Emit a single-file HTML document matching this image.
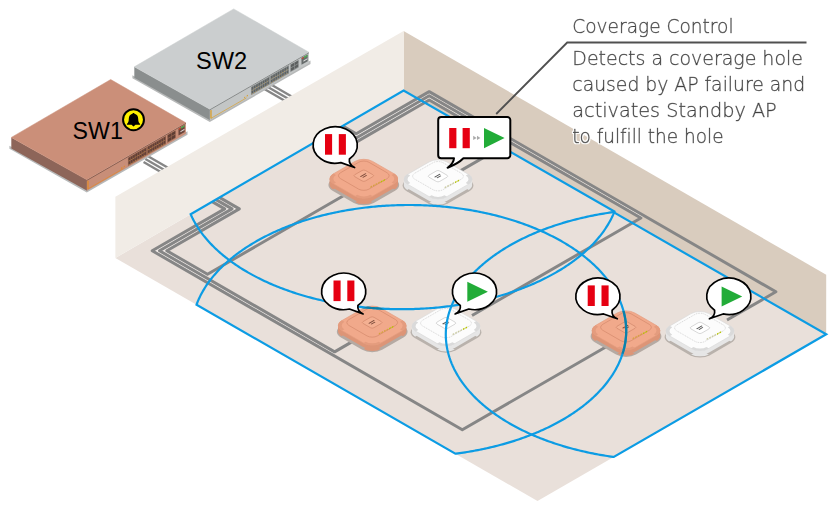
<!DOCTYPE html>
<html lang="en"><head><meta charset="utf-8"><title>Coverage Control</title>
<style>html,body{margin:0;padding:0;background:#fff}body{width:835px;height:510px;overflow:hidden}svg{display:block}</style>
</head><body>
<svg width="835" height="510" viewBox="0 0 835 510">
<defs>
<filter id="halo" x="-3%" y="-8%" width="106%" height="116%"><feMorphology in="SourceAlpha" operator="dilate" radius="1.3" result="d"/><feFlood flood-color="#fff"/><feComposite in2="d" operator="in" result="h"/><feMerge><feMergeNode in="h"/><feMergeNode in="SourceGraphic"/></feMerge></filter>
<clipPath id="feet"><rect x="12.83" y="-23.8" width="10.97" height="10.97"/><rect x="12.83" y="12.83" width="10.97" height="10.97"/><rect x="-23.8" y="12.83" width="10.97" height="10.97"/></clipPath><g id="ap-o">
<g transform="translate(0,6.1) matrix(0.86603,0.5,-0.86603,0.5,0,0)"><rect x="-23.8" y="-23.8" width="47.6" height="47.6" rx="11.5" fill="#b5aaa3"/></g>
<g transform="translate(0,5.6) matrix(0.86603,0.5,-0.86603,0.5,0,0)"><rect x="-22.8" y="-22.8" width="45.6" height="45.6" rx="10.5" fill="#dd9577" clip-path="url(#feet)"/></g>
<g transform="translate(0,3.9) matrix(0.86603,0.5,-0.86603,0.5,0,0)"><rect x="-22.8" y="-22.8" width="45.6" height="45.6" rx="10.5" fill="#dd9577"/></g>
<rect x="-34.16" y="0" width="68.32" height="3.9" fill="#dd9577"/>
<g transform="matrix(0.86603,0.5,-0.86603,0.5,0,0)"><rect x="-22.5" y="-22.5" width="45" height="45" rx="10.2" fill="#f1a98b" stroke="#e49c7e" stroke-width="0.6"/>
<path d="M12.3,-22.8 A10.5,10.5 0 0 1 22.8,-12.3 L19.8,-12.3 A7.5,7.5 0 0 0 12.3,-19.8 Z" fill="#e49c7e"/>
<path d="M-12.3,22.8 A10.5,10.5 0 0 1 -22.8,12.3 L-19.8,12.3 A7.5,7.5 0 0 0 -12.3,19.8 Z" fill="#e49c7e"/>
<path d="M12.3,22.8 A10.5,10.5 0 0 0 22.8,12.3 L19.8,12.3 A7.5,7.5 0 0 1 12.3,19.8 Z" fill="#e49c7e"/>
</g>
<g transform="translate(0,-3.1) matrix(0.86603,0.5,-0.86603,0.5,0,0)"><rect x="-16.4" y="-16.4" width="32.8" height="32.8" rx="6" fill="none" stroke="#cf8467" stroke-width="0.55"/><rect x="-6.2" y="-6.2" width="12.4" height="12.4" rx="2" fill="#f4b092" stroke="#cf8467" stroke-width="0.6"/><path d="M-1.5,-3.4 h1.1 v6.4 h-1.1 z M0.6,-2.2 h1.0 v4.6 h-1.0 z" fill="#7a4a3a"/></g>
<path d="M6.6,7.6 l1.6,-0.92 l0,1.5 l-1.6,0.92 z" fill="#d6a23f"/>
<path d="M9.18,6.3 l1.6,-0.92 l0,1.5 l-1.6,0.92 z" fill="#d6a23f"/>
<path d="M11.76,5 l1.6,-0.92 l0,1.5 l-1.6,0.92 z" fill="#d6a23f"/>
<path d="M14.34,3.7 l1.6,-0.92 l0,1.5 l-1.6,0.92 z" fill="#d6a23f"/>
<path d="M16.92,2.4 l1.6,-0.92 l0,1.5 l-1.6,0.92 z" fill="#b8c400"/>
<path d="M19.5,1.1 l1.6,-0.92 l0,1.5 l-1.6,0.92 z" fill="#b8c400"/>
</g><g id="ap-w">
<g transform="translate(0,6.1) matrix(0.86603,0.5,-0.86603,0.5,0,0)"><rect x="-23.8" y="-23.8" width="47.6" height="47.6" rx="11.5" fill="#b9b2ac"/></g>
<g transform="translate(0,5.6) matrix(0.86603,0.5,-0.86603,0.5,0,0)"><rect x="-22.8" y="-22.8" width="45.6" height="45.6" rx="10.5" fill="#e6e6e6" clip-path="url(#feet)"/></g>
<g transform="translate(0,3.9) matrix(0.86603,0.5,-0.86603,0.5,0,0)"><rect x="-22.8" y="-22.8" width="45.6" height="45.6" rx="10.5" fill="#e6e6e6"/></g>
<rect x="-34.16" y="0" width="68.32" height="3.9" fill="#e6e6e6"/>
<g transform="matrix(0.86603,0.5,-0.86603,0.5,0,0)"><rect x="-22.5" y="-22.5" width="45" height="45" rx="10.2" fill="#fcfcfc" stroke="#dadada" stroke-width="0.6"/>
<path d="M12.3,-22.8 A10.5,10.5 0 0 1 22.8,-12.3 L19.8,-12.3 A7.5,7.5 0 0 0 12.3,-19.8 Z" fill="#dadada"/>
<path d="M-12.3,22.8 A10.5,10.5 0 0 1 -22.8,12.3 L-19.8,12.3 A7.5,7.5 0 0 0 -12.3,19.8 Z" fill="#dadada"/>
<path d="M12.3,22.8 A10.5,10.5 0 0 0 22.8,12.3 L19.8,12.3 A7.5,7.5 0 0 1 12.3,19.8 Z" fill="#dadada"/>
</g>
<g transform="translate(0,-3.1) matrix(0.86603,0.5,-0.86603,0.5,0,0)"><rect x="-16.4" y="-16.4" width="32.8" height="32.8" rx="6" fill="none" stroke="#c4c4c4" stroke-width="0.55" stroke-dasharray="1.2 0.8"/><rect x="-6.2" y="-6.2" width="12.4" height="12.4" rx="2" fill="#ffffff" stroke="#c4c4c4" stroke-width="0.6"/><path d="M-1.5,-3.4 h1.1 v6.4 h-1.1 z M0.6,-2.2 h1.0 v4.6 h-1.0 z" fill="#555"/></g>
<path d="M6.6,7.6 l1.6,-0.92 l0,1.5 l-1.6,0.92 z" fill="#c9c9a0"/>
<path d="M9.18,6.3 l1.6,-0.92 l0,1.5 l-1.6,0.92 z" fill="#c9c9a0"/>
<path d="M11.76,5 l1.6,-0.92 l0,1.5 l-1.6,0.92 z" fill="#c9c9a0"/>
<path d="M14.34,3.7 l1.6,-0.92 l0,1.5 l-1.6,0.92 z" fill="#c9c9a0"/>
<path d="M16.92,2.4 l1.6,-0.92 l0,1.5 l-1.6,0.92 z" fill="#b8c400"/>
<path d="M19.5,1.1 l1.6,-0.92 l0,1.5 l-1.6,0.92 z" fill="#b8c400"/>
</g>
<clipPath id="apo-clip"><rect x="-22.8" y="-22.8" width="45.6" height="45.6" rx="10.5" transform="matrix(0.86603,0.5,-0.86603,0.5,363.8,178.8)"/><rect x="-22.8" y="-22.8" width="45.6" height="45.6" rx="10.5" transform="matrix(0.86603,0.5,-0.86603,0.5,363.8,182.7)"/><rect x="-22.8" y="-22.8" width="45.6" height="45.6" rx="10.5" transform="matrix(0.86603,0.5,-0.86603,0.5,372.2,325.6)"/><rect x="-22.8" y="-22.8" width="45.6" height="45.6" rx="10.5" transform="matrix(0.86603,0.5,-0.86603,0.5,372.2,329.5)"/><rect x="-22.8" y="-22.8" width="45.6" height="45.6" rx="10.5" transform="matrix(0.86603,0.5,-0.86603,0.5,626,330.4)"/><rect x="-22.8" y="-22.8" width="45.6" height="45.6" rx="10.5" transform="matrix(0.86603,0.5,-0.86603,0.5,626,334.3)"/></clipPath>
</defs>
<g id="cables-back"><path d="M147.22,155.74 L200.33,186.4" fill="none" stroke="#868686" stroke-width="2.3" stroke-linejoin="round"/><path d="M145.4,158.9 L193.03,186.4" fill="none" stroke="#868686" stroke-width="2.3" stroke-linejoin="round"/><path d="M143.57,162.06 L185.73,186.4" fill="none" stroke="#868686" stroke-width="2.3" stroke-linejoin="round"/><path d="M259.14,86.06 L317.23,119.6" fill="none" stroke="#868686" stroke-width="2.3" stroke-linejoin="round"/><path d="M260.94,82.95 L317.23,115.45" fill="none" stroke="#868686" stroke-width="2.3" stroke-linejoin="round"/><path d="M262.74,79.83 L317.23,111.29" fill="none" stroke="#868686" stroke-width="2.3" stroke-linejoin="round"/></g>
<path d="M403.6,30.9 L403.6,90.5 L826.2,334.3 L826.2,274.7 Z" fill="#d9ccbe"/>
<path d="M403.6,90.5 L115.4,258 L537.5,501 L826.2,334.3 Z" fill="#e9e0da"/>
<g id="cables"><path d="M196.68,186.4 L235.65,208.9 L163.15,250.76 L206,275.5" fill="none" stroke="rgba(255,255,255,0.4)" stroke-width="1.5" stroke-linejoin="round"/><path d="M189.38,186.4 L228.35,208.9 L155.85,250.76 L333.1,353.09" fill="none" stroke="rgba(255,255,255,0.4)" stroke-width="1.5" stroke-linejoin="round"/><path d="M317.23,117.53 L356.2,140.03 L429.2,97.88 L507.7,143.2" fill="none" stroke="rgba(255,255,255,0.5)" stroke-width="1.55" stroke-linejoin="round"/><path d="M317.23,113.37 L356.2,135.87 L429.2,93.72 L642.4,216.81" fill="none" stroke="rgba(255,255,255,0.5)" stroke-width="1.55" stroke-linejoin="round"/><path d="M200.33,186.4 L239.3,208.9 L166.8,250.76 L207.5,274.26 L346,194.29" fill="none" stroke="#868686" stroke-width="2.95" stroke-linejoin="round"/><path d="M193.03,186.4 L232,208.9 L159.5,250.76 L334.6,351.85 L354,340.65" fill="none" stroke="#868686" stroke-width="2.95" stroke-linejoin="round"/><path d="M185.73,186.4 L224.7,208.9 L152.2,250.76 L462.3,429.79 L611,343.94" fill="none" stroke="#868686" stroke-width="2.95" stroke-linejoin="round"/><path d="M317.23,119.6 L356.2,142.1 L429.2,99.96 L506.2,144.41 L456,173.4" fill="none" stroke="#868686" stroke-width="2.95" stroke-linejoin="round"/><path d="M317.23,115.45 L356.2,137.95 L429.2,95.8 L640.9,218.03 L472,315.54" fill="none" stroke="#868686" stroke-width="2.95" stroke-linejoin="round"/><path d="M317.23,111.29 L356.2,133.79 L429.2,91.64 L775.9,291.81 L727,320.04" fill="none" stroke="#868686" stroke-width="2.95" stroke-linejoin="round"/></g>
<path d="M403.6,30.9 L115.4,196.8 L115.4,258 L403.6,90.5 Z" fill="#f1ece6"/>
<path d="M132.4,75.2 L132.4,78.2 L209.8,122 L310.5,64.1 L310.5,60.6 L209.8,117.2 Z" fill="#b7b9b9"/>
<path d="M134.3,66.8 L134.3,77.8 L210.1,120.2 L210.1,109.2 Z" fill="#8a8e8e"/>
<path d="M209.8,109.2 L209.8,120.2 L308.9,63.2 L308.9,52.2 Z" fill="#c3c6c6"/>
<path d="M233.7,8.9 L134.3,66.8 L209.8,109.2 L308.9,52.2 Z" fill="#cbcecf" stroke="#cbcecf" stroke-width="0.5" stroke-linejoin="round"/>
<path d="M209.8,109.8 L308.9,52.8" fill="none" stroke="#565a5a" stroke-width="0.7" opacity="0.8"/>
<path d="M210.99,110.32 L210.99,118.32 L246.47,97.91" fill="none" stroke="#d9a032" stroke-width="0.7"/>
<path d="M210.99,110.02 L210.99,118.52" fill="none" stroke="#d9a032" stroke-width="1"/>
<path d="M243.99,97.13 L243.99,98.33 L245.28,97.59 L245.28,96.39 Z M246.67,95.6 L246.67,96.8 L247.95,96.05 L247.95,94.85 Z" fill="#d9a032"/>
<path d="M250.93,87.04 L250.93,95.34 L289.08,73.4 L289.08,65.1 Z" fill="#8f9393"/>
<path d="M251.64,87.33 L251.64,90.13 L253.34,89.16 L253.34,86.36 Z M251.64,91.03 L251.64,93.83 L253.34,92.86 L253.34,90.06 Z M253.87,86.05 L253.87,88.85 L255.57,87.87 L255.57,85.07 Z M253.87,89.75 L253.87,92.55 L255.57,91.57 L255.57,88.77 Z M256.1,84.77 L256.1,87.57 L257.8,86.59 L257.8,83.79 Z M256.1,88.47 L256.1,91.27 L257.8,90.29 L257.8,87.49 Z M258.33,83.48 L258.33,86.28 L260.03,85.31 L260.03,82.51 Z M258.33,87.18 L258.33,89.98 L260.03,89.01 L260.03,86.21 Z M260.56,82.2 L260.56,85 L262.26,84.03 L262.26,81.23 Z M260.56,85.9 L260.56,88.7 L262.26,87.73 L262.26,84.93 Z M262.79,80.92 L262.79,83.72 L264.49,82.74 L264.49,79.94 Z M262.79,84.62 L262.79,87.42 L264.49,86.44 L264.49,83.64 Z M265.02,79.64 L265.02,82.44 L266.72,81.46 L266.72,78.66 Z M265.02,83.34 L265.02,86.14 L266.72,85.16 L266.72,82.36 Z M267.25,78.35 L267.25,81.15 L268.95,80.18 L268.95,77.38 Z M267.25,82.05 L267.25,84.85 L268.95,83.88 L268.95,81.08 Z M270.97,76.22 L270.97,79.02 L272.66,78.04 L272.66,75.24 Z M270.97,79.92 L270.97,82.72 L272.66,81.74 L272.66,78.94 Z M273.2,74.93 L273.2,77.73 L274.89,76.76 L274.89,73.96 Z M273.2,78.63 L273.2,81.43 L274.89,80.46 L274.89,77.66 Z M275.43,73.65 L275.43,76.45 L277.12,75.48 L277.12,72.68 Z M275.43,77.35 L275.43,80.15 L277.12,79.18 L277.12,76.38 Z M277.66,72.37 L277.66,75.17 L279.35,74.19 L279.35,71.39 Z M277.66,76.07 L277.66,78.87 L279.35,77.89 L279.35,75.09 Z M279.89,71.09 L279.89,73.89 L281.58,72.91 L281.58,70.11 Z M279.89,74.79 L279.89,77.59 L281.58,76.61 L281.58,73.81 Z M282.12,69.8 L282.12,72.6 L283.81,71.63 L283.81,68.83 Z M282.12,73.5 L282.12,76.3 L283.81,75.33 L283.81,72.53 Z M284.35,68.52 L284.35,71.32 L286.04,70.35 L286.04,67.55 Z M284.35,72.22 L284.35,75.02 L286.04,74.05 L286.04,71.25 Z M286.58,67.24 L286.58,70.04 L288.27,69.06 L288.27,66.26 Z M286.58,70.94 L286.58,73.74 L288.27,72.76 L288.27,69.96 Z" fill="#565a5a" opacity="0.85"/>
<path d="M251.84,89.92 L251.84,90.72 L252.34,90.43 L252.34,89.63 Z M251.84,93.62 L251.84,94.42 L252.34,94.13 L252.34,93.33 Z M254.07,88.64 L254.07,89.44 L254.57,89.15 L254.57,88.35 Z M254.07,92.34 L254.07,93.14 L254.57,92.85 L254.57,92.05 Z M256.3,87.35 L256.3,88.15 L256.8,87.87 L256.8,87.07 Z M256.3,91.05 L256.3,91.85 L256.8,91.57 L256.8,90.77 Z M258.53,86.07 L258.53,86.87 L259.03,86.59 L259.03,85.79 Z M258.53,89.77 L258.53,90.57 L259.03,90.29 L259.03,89.49 Z M260.76,84.79 L260.76,85.59 L261.26,85.3 L261.26,84.5 Z M260.76,88.49 L260.76,89.29 L261.26,89 L261.26,88.2 Z M262.99,83.51 L262.99,84.31 L263.49,84.02 L263.49,83.22 Z M262.99,87.21 L262.99,88.01 L263.49,87.72 L263.49,86.92 Z M265.22,82.22 L265.22,83.02 L265.72,82.74 L265.72,81.94 Z M265.22,85.92 L265.22,86.72 L265.72,86.44 L265.72,85.64 Z M267.45,80.94 L267.45,81.74 L267.95,81.46 L267.95,80.66 Z M267.45,84.64 L267.45,85.44 L267.95,85.16 L267.95,84.36 Z M271.17,78.8 L271.17,79.6 L271.66,79.32 L271.66,78.52 Z M271.17,82.5 L271.17,83.3 L271.66,83.02 L271.66,82.22 Z M273.4,77.52 L273.4,78.32 L273.89,78.04 L273.89,77.24 Z M273.4,81.22 L273.4,82.02 L273.89,81.74 L273.89,80.94 Z M275.63,76.24 L275.63,77.04 L276.12,76.75 L276.12,75.95 Z M275.63,79.94 L275.63,80.74 L276.12,80.45 L276.12,79.65 Z M277.86,74.96 L277.86,75.76 L278.35,75.47 L278.35,74.67 Z M277.86,78.66 L277.86,79.46 L278.35,79.17 L278.35,78.37 Z M280.09,73.67 L280.09,74.47 L280.58,74.19 L280.58,73.39 Z M280.09,77.37 L280.09,78.17 L280.58,77.89 L280.58,77.09 Z M282.32,72.39 L282.32,73.19 L282.81,72.91 L282.81,72.11 Z M282.32,76.09 L282.32,76.89 L282.81,76.61 L282.81,75.81 Z M284.55,71.11 L284.55,71.91 L285.04,71.62 L285.04,70.82 Z M284.55,74.81 L284.55,75.61 L285.04,75.32 L285.04,74.52 Z M286.78,69.83 L286.78,70.63 L287.27,70.34 L287.27,69.54 Z M286.78,73.53 L286.78,74.33 L287.27,74.04 L287.27,73.24 Z" fill="#e0a030" opacity="0.9"/>
<path d="M290.27,64.52 L290.27,72.32 L298.69,67.47 L298.69,59.67 Z" fill="#8f9393"/>
<path d="M290.86,64.67 L290.86,67.47 L294.23,65.54 L294.23,62.74 Z M294.83,62.39 L294.83,65.19 L298.2,63.26 L298.2,60.46 Z M290.86,68.27 L290.86,71.07 L294.23,69.14 L294.23,66.34 Z M294.83,65.99 L294.83,68.79 L298.2,66.86 L298.2,64.06 Z" fill="#565a5a" opacity="0.9"/>
<path d="M301.47,58.07 L301.47,64.87 L307.71,61.28 L307.71,54.48 Z" fill="#565a5a" opacity="0.85"/>
<path d="M303.94,56.65 L303.94,58.25 L307.41,56.25 L307.41,54.65 Z" fill="#4caf50"/>
<path d="M301.76,58 L301.76,59.3 L303.75,58.16 L303.75,56.86 Z" fill="#c9452e"/>
<path d="M303.45,60.53 L303.45,61.63 L307.41,59.35 L307.41,58.25 Z" fill="#e9e9e9" opacity="0.9"/>
<text x="195.9" y="69.3" font-family="'Liberation Sans', Arial, sans-serif" font-size="23" textLength="51.2" lengthAdjust="spacingAndGlyphs" fill="#000">SW2</text>
<path d="M9.4,145.8 L9.4,148.8 L86.8,192.6 L187.5,134.7 L187.5,131.2 L86.8,187.8 Z" fill="#b7b9b9"/>
<path d="M11.3,137.4 L11.3,148.4 L87.1,190.8 L87.1,179.8 Z" fill="#8d6559"/>
<path d="M86.8,179.8 L86.8,190.8 L185.9,133.8 L185.9,122.8 Z" fill="#c88e78"/>
<path d="M110.7,79.5 L11.3,137.4 L86.8,179.8 L185.9,122.8 Z" fill="#cb8f79" stroke="#cb8f79" stroke-width="0.5" stroke-linejoin="round"/>
<path d="M86.8,180.4 L185.9,123.4" fill="none" stroke="#593a31" stroke-width="0.7" opacity="0.8"/>
<path d="M87.99,180.92 L87.99,188.92 L123.47,168.51" fill="none" stroke="#e08a2e" stroke-width="0.7"/>
<path d="M87.99,180.62 L87.99,189.12" fill="none" stroke="#e08a2e" stroke-width="1"/>
<path d="M120.99,167.73 L120.99,168.94 L122.28,168.19 L122.28,166.99 Z M123.67,166.2 L123.67,167.4 L124.95,166.66 L124.95,165.45 Z" fill="#e08a2e"/>
<path d="M127.93,157.64 L127.93,165.94 L166.08,144 L166.08,135.7 Z" fill="#93634f"/>
<path d="M128.64,157.93 L128.64,160.73 L130.34,159.76 L130.34,156.96 Z M128.64,161.63 L128.64,164.43 L130.34,163.46 L130.34,160.66 Z M130.87,156.65 L130.87,159.45 L132.57,158.47 L132.57,155.67 Z M130.87,160.35 L130.87,163.15 L132.57,162.17 L132.57,159.37 Z M133.1,155.37 L133.1,158.17 L134.8,157.19 L134.8,154.39 Z M133.1,159.07 L133.1,161.87 L134.8,160.89 L134.8,158.09 Z M135.33,154.08 L135.33,156.88 L137.03,155.91 L137.03,153.11 Z M135.33,157.78 L135.33,160.58 L137.03,159.61 L137.03,156.81 Z M137.56,152.8 L137.56,155.6 L139.26,154.63 L139.26,151.83 Z M137.56,156.5 L137.56,159.3 L139.26,158.33 L139.26,155.53 Z M139.79,151.52 L139.79,154.32 L141.49,153.34 L141.49,150.54 Z M139.79,155.22 L139.79,158.02 L141.49,157.04 L141.49,154.24 Z M142.02,150.24 L142.02,153.04 L143.72,152.06 L143.72,149.26 Z M142.02,153.94 L142.02,156.74 L143.72,155.76 L143.72,152.96 Z M144.25,148.95 L144.25,151.75 L145.95,150.78 L145.95,147.98 Z M144.25,152.65 L144.25,155.45 L145.95,154.48 L145.95,151.68 Z M147.97,146.82 L147.97,149.62 L149.66,148.64 L149.66,145.84 Z M147.97,150.52 L147.97,153.32 L149.66,152.34 L149.66,149.54 Z M150.2,145.53 L150.2,148.33 L151.89,147.36 L151.89,144.56 Z M150.2,149.23 L150.2,152.03 L151.89,151.06 L151.89,148.26 Z M152.43,144.25 L152.43,147.05 L154.12,146.08 L154.12,143.28 Z M152.43,147.95 L152.43,150.75 L154.12,149.78 L154.12,146.98 Z M154.66,142.97 L154.66,145.77 L156.35,144.79 L156.35,141.99 Z M154.66,146.67 L154.66,149.47 L156.35,148.49 L156.35,145.69 Z M156.89,141.69 L156.89,144.49 L158.58,143.51 L158.58,140.71 Z M156.89,145.39 L156.89,148.19 L158.58,147.21 L158.58,144.41 Z M159.12,140.4 L159.12,143.2 L160.81,142.23 L160.81,139.43 Z M159.12,144.1 L159.12,146.9 L160.81,145.93 L160.81,143.13 Z M161.35,139.12 L161.35,141.92 L163.04,140.95 L163.04,138.15 Z M161.35,142.82 L161.35,145.62 L163.04,144.65 L163.04,141.85 Z M163.58,137.84 L163.58,140.64 L165.27,139.66 L165.27,136.86 Z M163.58,141.54 L163.58,144.34 L165.27,143.36 L165.27,140.56 Z" fill="#593a31" opacity="0.85"/>
<path d="M128.84,160.52 L128.84,161.32 L129.34,161.03 L129.34,160.23 Z M128.84,164.22 L128.84,165.02 L129.34,164.73 L129.34,163.93 Z M131.07,159.24 L131.07,160.04 L131.57,159.75 L131.57,158.95 Z M131.07,162.94 L131.07,163.74 L131.57,163.45 L131.57,162.65 Z M133.3,157.95 L133.3,158.75 L133.8,158.47 L133.8,157.67 Z M133.3,161.65 L133.3,162.45 L133.8,162.17 L133.8,161.37 Z M135.53,156.67 L135.53,157.47 L136.03,157.19 L136.03,156.39 Z M135.53,160.37 L135.53,161.17 L136.03,160.89 L136.03,160.09 Z M137.76,155.39 L137.76,156.19 L138.26,155.9 L138.26,155.1 Z M137.76,159.09 L137.76,159.89 L138.26,159.6 L138.26,158.8 Z M139.99,154.11 L139.99,154.91 L140.49,154.62 L140.49,153.82 Z M139.99,157.81 L139.99,158.61 L140.49,158.32 L140.49,157.52 Z M142.22,152.82 L142.22,153.62 L142.72,153.34 L142.72,152.54 Z M142.22,156.52 L142.22,157.32 L142.72,157.04 L142.72,156.24 Z M144.45,151.54 L144.45,152.34 L144.95,152.06 L144.95,151.26 Z M144.45,155.24 L144.45,156.04 L144.95,155.76 L144.95,154.96 Z M148.17,149.4 L148.17,150.2 L148.66,149.92 L148.66,149.12 Z M148.17,153.1 L148.17,153.9 L148.66,153.62 L148.66,152.82 Z M150.4,148.12 L150.4,148.92 L150.89,148.64 L150.89,147.84 Z M150.4,151.82 L150.4,152.62 L150.89,152.34 L150.89,151.54 Z M152.63,146.84 L152.63,147.64 L153.12,147.35 L153.12,146.55 Z M152.63,150.54 L152.63,151.34 L153.12,151.05 L153.12,150.25 Z M154.86,145.56 L154.86,146.36 L155.35,146.07 L155.35,145.27 Z M154.86,149.26 L154.86,150.06 L155.35,149.77 L155.35,148.97 Z M157.09,144.27 L157.09,145.07 L157.58,144.79 L157.58,143.99 Z M157.09,147.97 L157.09,148.77 L157.58,148.49 L157.58,147.69 Z M159.32,142.99 L159.32,143.79 L159.81,143.51 L159.81,142.71 Z M159.32,146.69 L159.32,147.49 L159.81,147.21 L159.81,146.41 Z M161.55,141.71 L161.55,142.51 L162.04,142.22 L162.04,141.42 Z M161.55,145.41 L161.55,146.21 L162.04,145.92 L162.04,145.12 Z M163.78,140.43 L163.78,141.23 L164.27,140.94 L164.27,140.14 Z M163.78,144.13 L163.78,144.93 L164.27,144.64 L164.27,143.84 Z" fill="#e0a030" opacity="0.9"/>
<path d="M167.27,135.12 L167.27,142.92 L175.69,138.07 L175.69,130.27 Z" fill="#93634f"/>
<path d="M167.86,135.27 L167.86,138.07 L171.23,136.14 L171.23,133.34 Z M171.83,132.99 L171.83,135.79 L175.2,133.86 L175.2,131.06 Z M167.86,138.87 L167.86,141.67 L171.23,139.74 L171.23,136.94 Z M171.83,136.59 L171.83,139.39 L175.2,137.46 L175.2,134.66 Z" fill="#593a31" opacity="0.9"/>
<path d="M178.47,128.67 L178.47,135.47 L184.71,131.88 L184.71,125.08 Z" fill="#593a31" opacity="0.85"/>
<path d="M180.94,127.25 L180.94,128.85 L184.41,126.86 L184.41,125.25 Z" fill="#4caf50"/>
<path d="M178.76,128.6 L178.76,129.9 L180.75,128.76 L180.75,127.46 Z" fill="#c9452e"/>
<path d="M180.45,131.13 L180.45,132.24 L184.41,129.96 L184.41,128.85 Z" fill="#e9e9e9" opacity="0.9"/>
<text x="72.6" y="139.3" font-family="'Liberation Sans', Arial, sans-serif" font-size="23" textLength="50.2" lengthAdjust="spacingAndGlyphs" fill="#000">SW1</text>
<circle cx="133.5" cy="119.7" r="10.45" fill="#fff100" stroke="#000" stroke-width="2"/>
<path transform="translate(133.5,119.7)" d="M0,-6.8 C0.7,-6.8 1.0,-6.3 1.0,-5.9 C3.5,-5.3 4.7,-3.4 4.7,-1.0 C4.7,1.8 5.3,3.2 6.6,4.2 L6.6,5 L2.0,5 L0,6.9 L-2.0,5 L-6.6,5 L-6.6,4.2 C-5.3,3.2 -4.7,1.8 -4.7,-1.0 C-4.7,-3.4 -3.5,-5.3 -1.0,-5.9 C-1.0,-6.3 -0.7,-6.8 0,-6.8 Z" fill="#000"/>
<use href="#ap-o" x="363.8" y="178.8"/>
<use href="#ap-w" x="438" y="179.3"/>
<use href="#ap-o" x="372.2" y="325.6"/>
<use href="#ap-w" x="446" y="326.2"/>
<use href="#ap-o" x="626" y="330.4"/>
<use href="#ap-w" x="700" y="331"/>
<g stroke="#0c9ce4"><g id="cov" fill="none" stroke-width="2.2" stroke-linejoin="miter"><path d="M614.45,211.59 L614.41,211.7 L613.98,212.77 L613.52,213.83 L613.06,214.9 L612.57,215.96 L612.07,217.02 L611.56,218.08 L611.02,219.13 L610.47,220.18 L609.91,221.23 L609.33,222.27 L608.73,223.32 L608.12,224.36 L607.5,225.39 L606.85,226.43 L606.19,227.46 L605.52,228.48 L604.83,229.51 L604.13,230.53 L603.41,231.54 L602.67,232.55 L601.92,233.56 L601.15,234.57 L600.37,235.57 L599.58,236.57 L598.76,237.56 L597.94,238.55 L597.1,239.53 L596.24,240.51 L595.37,241.49 L594.48,242.46 L593.58,243.43 L592.67,244.39 L591.74,245.35 L590.79,246.3 L589.84,247.25 L588.86,248.19 L587.88,249.13 L586.87,250.06 L585.86,250.99 L584.83,251.92 L583.79,252.83 L582.73,253.75 L581.66,254.65 L580.58,255.56 L579.48,256.45 L578.37,257.34 L577.24,258.23 L576.1,259.11 L574.95,259.98 L573.79,260.85 L572.61,261.71 L571.42,262.57 L570.21,263.42 L569,264.26 L567.77,265.1 L566.53,265.93 L565.27,266.76 L564.01,267.58 L562.73,268.39 L561.44,269.2 L560.13,270 L558.82,270.79 L557.49,271.57 L556.15,272.35 L554.8,273.13 L553.44,273.89 L552.06,274.65 L550.68,275.4 L549.28,276.15 L547.87,276.89 L546.45,277.62 L545.02,278.34 L543.58,279.06 L542.13,279.77 L540.67,280.47 L539.19,281.16 L537.71,281.85 L536.21,282.53 L534.71,283.2 L533.2,283.87 L531.67,284.53 L530.14,285.17 L528.59,285.82 L527.04,286.45 L525.48,287.08 L523.9,287.69 L522.32,288.3 L520.73,288.9 L519.13,289.5 L517.52,290.08 L515.9,290.66 L514.28,291.23 L512.64,291.79 L511,292.35 L509.35,292.89 L507.69,293.43 L506.02,293.96 L504.34,294.47 L502.66,294.99 L500.97,295.49 L499.27,295.98 L497.56,296.47 L495.85,296.95 L494.13,297.41 L492.4,297.87 L490.67,298.32 L488.93,298.77 L487.18,299.2 L485.42,299.62 L483.66,300.04 L481.9,300.45 L480.12,300.84 L478.35,301.23 L476.56,301.61 L474.77,301.98 L472.97,302.35 L471.17,302.7 L469.37,303.04 L467.55,303.38 L465.74,303.7 L463.92,304.02 L462.09,304.33 L460.26,304.62 L458.42,304.91 L456.58,305.19 L454.74,305.46 L452.89,305.72 L451.04,305.98 L449.18,306.22 L447.32,306.45 L445.46,306.67 L443.6,306.89 L441.73,307.09 L439.86,307.29 L437.98,307.47 L436.1,307.65 L434.22,307.82 L432.34,307.98 L430.45,308.12 L428.57,308.26 L426.68,308.39 L424.79,308.51 L422.89,308.62 L421,308.72 L419.1,308.81 L417.21,308.89 L415.31,308.97 L413.41,309.03 L411.51,309.08 L409.61,309.12 L407.71,309.16 L405.8,309.18 L403.9,309.2 L402,309.2 L400.1,309.2 L398.2,309.18 L396.29,309.16 L394.39,309.12 L392.49,309.08 L390.59,309.03 L388.69,308.97 L386.79,308.89 L384.9,308.81 L383,308.72 L381.11,308.62 L379.21,308.51 L377.32,308.39 L375.43,308.26 L373.55,308.12 L371.66,307.98 L369.78,307.82 L367.9,307.65 L366.02,307.47 L364.14,307.29 L362.27,307.09 L360.4,306.89 L358.54,306.67 L356.68,306.45 L354.82,306.22 L352.96,305.98 L351.11,305.72 L349.26,305.46 L347.42,305.19 L345.58,304.91 L343.74,304.62 L341.91,304.33 L340.08,304.02 L338.26,303.7 L336.45,303.38 L334.63,303.04 L332.83,302.7 L331.03,302.35 L329.23,301.98 L327.44,301.61 L325.65,301.23 L323.88,300.84 L322.1,300.45 L320.34,300.04 L318.58,299.62 L316.82,299.2 L315.07,298.77 L313.33,298.32 L311.6,297.87 L309.87,297.41 L308.15,296.95 L306.44,296.47 L304.73,295.98 L303.03,295.49 L301.34,294.99 L299.66,294.47 L297.98,293.96 L296.31,293.43 L294.65,292.89 L293,292.35 L291.36,291.79 L289.72,291.23 L288.1,290.66 L286.48,290.08 L284.87,289.5 L283.27,288.9 L281.68,288.3 L280.1,287.69 L278.52,287.08 L276.96,286.45 L275.41,285.82 L273.86,285.17 L272.33,284.53 L270.8,283.87 L269.29,283.2 L267.79,282.53 L266.29,281.85 L264.81,281.16 L263.33,280.47 L261.87,279.77 L260.42,279.06 L258.98,278.34 L257.55,277.62 L256.13,276.89 L254.72,276.15 L253.32,275.4 L251.94,274.65 L250.56,273.89 L249.2,273.13 L247.85,272.35 L246.51,271.57 L245.18,270.79 L243.87,270 L242.56,269.2 L241.27,268.39 L239.99,267.58 L238.73,266.76 L237.47,265.93 L236.23,265.1 L235,264.26 L233.79,263.42 L232.58,262.57 L231.39,261.71 L230.21,260.85 L229.05,259.98 L227.9,259.11 L226.76,258.23 L225.63,257.34 L224.52,256.45 L223.42,255.56 L222.34,254.65 L221.27,253.75 L220.21,252.83 L219.17,251.92 L218.14,250.99 L217.13,250.06 L216.12,249.13 L215.14,248.19 L214.16,247.25 L213.21,246.3 L212.26,245.35 L211.33,244.39 L210.42,243.43 L209.52,242.46 L208.63,241.49 L207.76,240.51 L206.9,239.53 L206.06,238.55 L205.24,237.56 L204.42,236.57 L203.63,235.57 L202.85,234.57 L202.08,233.56 L201.33,232.55 L200.59,231.54 L199.87,230.53 L199.17,229.51 L198.48,228.48 L197.81,227.46 L197.15,226.43 L196.5,225.39 L195.88,224.36 L195.27,223.32 L194.67,222.27 L194.09,221.23 L193.53,220.18 L192.98,219.13 L192.44,218.08 L191.93,217.02 L191.43,215.96 L190.94,214.9 L190.66,214.26 L403.6,90.5 Z"/><path d="M626.2,330.8 L626.19,331.9 L626.17,333 L626.13,334.09 L626.07,335.19 L625.99,336.29 L625.9,337.38 L625.79,338.48 L625.67,339.58 L625.53,340.67 L625.37,341.76 L625.2,342.86 L625.01,343.95 L624.8,345.04 L624.58,346.13 L624.34,347.22 L624.09,348.31 L623.81,349.39 L623.53,350.48 L623.22,351.56 L622.9,352.64 L622.56,353.73 L622.21,354.8 L621.84,355.88 L621.45,356.96 L621.05,358.03 L620.63,359.1 L620.2,360.17 L619.75,361.23 L619.28,362.3 L618.8,363.36 L618.3,364.42 L617.79,365.48 L617.26,366.53 L616.71,367.58 L616.15,368.63 L615.57,369.67 L614.98,370.72 L614.37,371.76 L613.74,372.79 L613.1,373.83 L612.45,374.86 L611.77,375.88 L611.09,376.91 L610.38,377.93 L609.67,378.94 L608.93,379.95 L608.19,380.96 L607.42,381.97 L606.64,382.97 L605.85,383.97 L605.04,384.96 L604.22,385.95 L603.38,386.93 L602.53,387.91 L601.66,388.89 L600.78,389.86 L599.88,390.83 L598.97,391.79 L598.04,392.75 L597.1,393.7 L596.15,394.65 L595.18,395.59 L594.19,396.53 L593.2,397.46 L592.18,398.39 L591.16,399.32 L590.12,400.23 L589.07,401.15 L588,402.05 L586.92,402.96 L585.83,403.85 L584.72,404.74 L583.6,405.63 L582.46,406.51 L581.32,407.38 L580.16,408.25 L578.98,409.11 L577.8,409.97 L576.6,410.82 L575.38,411.66 L574.16,412.5 L572.92,413.33 L571.67,414.16 L570.41,414.98 L569.14,415.79 L567.85,416.6 L566.55,417.4 L565.24,418.19 L563.92,418.97 L562.58,419.75 L561.24,420.53 L559.88,421.29 L558.51,422.05 L557.13,422.8 L555.74,423.55 L554.34,424.29 L552.92,425.02 L551.5,425.74 L550.06,426.46 L548.61,427.17 L547.16,427.87 L545.69,428.56 L544.21,429.25 L542.72,429.93 L541.22,430.6 L539.71,431.27 L538.2,431.93 L536.67,432.57 L535.13,433.22 L533.58,433.85 L532.02,434.48 L530.46,435.09 L528.88,435.7 L527.3,436.3 L525.7,436.9 L524.1,437.48 L522.49,438.06 L520.87,438.63 L519.24,439.19 L517.6,439.75 L515.95,440.29 L514.3,440.83 L512.64,441.36 L510.97,441.87 L509.29,442.39 L507.61,442.89 L505.91,443.38 L504.21,443.87 L502.51,444.35 L500.79,444.81 L499.07,445.27 L497.34,445.72 L495.61,446.17 L493.87,446.6 L492.12,447.02 L490.36,447.44 L488.6,447.85 L486.84,448.24 L485.07,448.63 L483.29,449.01 L481.5,449.38 L479.71,449.75 L477.92,450.1 L476.12,450.44 L474.31,450.78 L472.5,451.1 L470.69,451.42 L468.87,451.73 L467.04,452.02 L465.22,452.31 L463.38,452.59 L461.55,452.86 L459.7,453.12 L457.86,453.38 L456.01,453.62 L455.34,453.7 L196.53,304.7 L196.55,304.64 L196.95,303.57 L197.37,302.5 L197.8,301.43 L198.25,300.37 L198.72,299.3 L199.2,298.24 L199.7,297.18 L200.21,296.12 L200.74,295.07 L201.29,294.02 L201.85,292.97 L202.43,291.93 L203.02,290.88 L203.63,289.84 L204.26,288.81 L204.9,287.77 L205.55,286.74 L206.23,285.72 L206.91,284.69 L207.62,283.67 L208.33,282.66 L209.07,281.65 L209.81,280.64 L210.58,279.63 L211.36,278.63 L212.15,277.63 L212.96,276.64 L213.78,275.65 L214.62,274.67 L215.47,273.69 L216.34,272.71 L217.22,271.74 L218.12,270.77 L219.03,269.81 L219.96,268.85 L220.9,267.9 L221.85,266.95 L222.82,266.01 L223.81,265.07 L224.8,264.14 L225.82,263.21 L226.84,262.28 L227.88,261.37 L228.93,260.45 L230,259.55 L231.08,258.64 L232.17,257.75 L233.28,256.86 L234.4,255.97 L235.54,255.09 L236.68,254.22 L237.84,253.35 L239.02,252.49 L240.2,251.63 L241.4,250.78 L242.62,249.94 L243.84,249.1 L245.08,248.27 L246.33,247.44 L247.59,246.62 L248.86,245.81 L250.15,245 L251.45,244.2 L252.76,243.41 L254.08,242.63 L255.42,241.85 L256.76,241.07 L258.12,240.31 L259.49,239.55 L260.87,238.8 L262.26,238.05 L263.66,237.31 L265.08,236.58 L266.5,235.86 L267.94,235.14 L269.39,234.43 L270.84,233.73 L272.31,233.04 L273.79,232.35 L275.28,231.67 L276.78,231 L278.29,230.33 L279.8,229.67 L281.33,229.03 L282.87,228.38 L284.42,227.75 L285.98,227.12 L287.54,226.51 L289.12,225.9 L290.7,225.3 L292.3,224.7 L293.9,224.12 L295.51,223.54 L297.13,222.97 L298.76,222.41 L300.4,221.85 L302.05,221.31 L303.7,220.77 L305.36,220.24 L307.03,219.73 L308.71,219.21 L310.39,218.71 L312.09,218.22 L313.79,217.73 L315.49,217.25 L317.21,216.79 L318.93,216.33 L320.66,215.88 L322.39,215.43 L324.13,215 L325.88,214.58 L327.64,214.16 L329.4,213.75 L331.16,213.36 L332.93,212.97 L334.71,212.59 L336.5,212.22 L338.29,211.85 L340.08,211.5 L341.88,211.16 L343.69,210.82 L345.5,210.5 L347.31,210.18 L349.13,209.87 L350.96,209.58 L352.78,209.29 L354.62,209.01 L356.45,208.74 L358.3,208.48 L360.14,208.22 L361.99,207.98 L363.84,207.75 L365.7,207.53 L367.56,207.31 L369.42,207.11 L371.28,206.91 L373.15,206.73 L375.02,206.55 L376.9,206.38 L378.77,206.22 L380.65,206.08 L382.53,205.94 L384.41,205.81 L386.3,205.69 L388.18,205.58 L390.07,205.48 L391.96,205.39 L393.85,205.31 L395.74,205.23 L397.63,205.17 L399.53,205.12 L401.42,205.08 L403.31,205.04 L405.21,205.02 L407.1,205 L409,205 L410.9,205 L412.79,205.02 L414.69,205.04 L416.58,205.08 L418.47,205.12 L420.37,205.17 L422.26,205.23 L424.15,205.31 L426.04,205.39 L427.93,205.48 L429.82,205.58 L431.7,205.69 L433.59,205.81 L435.47,205.94 L437.35,206.08 L439.23,206.22 L441.1,206.38 L442.98,206.55 L444.85,206.73 L446.72,206.91 L448.58,207.11 L450.44,207.31 L452.3,207.53 L454.16,207.75 L456.01,207.98 L457.86,208.22 L459.7,208.48 L461.55,208.74 L463.38,209.01 L465.22,209.29 L467.04,209.58 L468.87,209.87 L470.69,210.18 L472.5,210.5 L474.31,210.82 L476.12,211.16 L477.92,211.5 L479.71,211.85 L481.5,212.22 L483.29,212.59 L485.07,212.97 L486.84,213.36 L488.6,213.75 L490.36,214.16 L492.12,214.58 L493.87,215 L495.61,215.43 L497.34,215.88 L499.07,216.33 L500.79,216.79 L502.51,217.25 L504.21,217.73 L505.91,218.22 L507.61,218.71 L509.29,219.21 L510.97,219.73 L512.64,220.24 L514.3,220.77 L515.95,221.31 L517.6,221.85 L519.24,222.41 L520.87,222.97 L522.49,223.54 L524.1,224.12 L525.7,224.7 L527.3,225.3 L528.88,225.9 L530.46,226.51 L532.02,227.12 L533.58,227.75 L535.13,228.38 L536.67,229.03 L538.2,229.67 L539.71,230.33 L541.22,231 L542.72,231.67 L544.21,232.35 L545.69,233.04 L547.16,233.73 L548.61,234.43 L550.06,235.14 L551.5,235.86 L552.92,236.58 L554.34,237.31 L555.74,238.05 L557.13,238.8 L558.51,239.55 L559.88,240.31 L561.24,241.07 L562.58,241.85 L563.92,242.63 L565.24,243.41 L566.55,244.2 L567.85,245 L569.14,245.81 L570.41,246.62 L571.67,247.44 L572.92,248.27 L574.16,249.1 L575.38,249.94 L576.6,250.78 L577.8,251.63 L578.98,252.49 L580.16,253.35 L581.32,254.22 L582.46,255.09 L583.6,255.97 L584.72,256.86 L585.83,257.75 L586.92,258.64 L588,259.55 L589.07,260.45 L590.12,261.37 L591.16,262.28 L592.18,263.21 L593.2,264.14 L594.19,265.07 L595.18,266.01 L596.15,266.95 L597.1,267.9 L598.04,268.85 L598.97,269.81 L599.88,270.77 L600.78,271.74 L601.66,272.71 L602.53,273.69 L603.38,274.67 L604.22,275.65 L605.04,276.64 L605.85,277.63 L606.64,278.63 L607.42,279.63 L608.19,280.64 L608.93,281.65 L609.67,282.66 L610.38,283.67 L611.09,284.69 L611.77,285.72 L612.45,286.74 L613.1,287.77 L613.74,288.81 L614.37,289.84 L614.98,290.88 L615.57,291.93 L616.15,292.97 L616.71,294.02 L617.26,295.07 L617.79,296.12 L618.3,297.18 L618.8,298.24 L619.28,299.3 L619.75,300.37 L620.2,301.43 L620.63,302.5 L621.05,303.57 L621.45,304.64 L621.84,305.72 L622.21,306.8 L622.56,307.87 L622.9,308.96 L623.22,310.04 L623.53,311.12 L623.81,312.21 L624.09,313.29 L624.34,314.38 L624.58,315.47 L624.8,316.56 L625.01,317.65 L625.2,318.74 L625.37,319.84 L625.53,320.93 L625.67,322.02 L625.79,323.12 L625.9,324.22 L625.99,325.31 L626.07,326.41 L626.13,327.51 L626.17,328.6 L626.19,329.7 Z"/><path d="M826.2,334.3 L613.8,456.94 L612.91,456.82 L611.06,456.56 L609.22,456.29 L607.38,456.01 L605.54,455.72 L603.71,455.43 L601.88,455.12 L600.06,454.8 L598.25,454.48 L596.43,454.14 L594.63,453.8 L592.83,453.45 L591.03,453.08 L589.24,452.71 L587.45,452.33 L585.68,451.94 L583.9,451.55 L582.14,451.14 L580.38,450.72 L578.62,450.3 L576.87,449.87 L575.13,449.42 L573.4,448.97 L571.67,448.51 L569.95,448.05 L568.24,447.57 L566.53,447.08 L564.83,446.59 L563.14,446.09 L561.46,445.57 L559.78,445.06 L558.11,444.53 L556.45,443.99 L554.8,443.45 L553.16,442.89 L551.52,442.33 L549.9,441.76 L548.28,441.18 L546.67,440.6 L545.07,440 L543.48,439.4 L541.9,438.79 L540.32,438.18 L538.76,437.55 L537.21,436.92 L535.66,436.27 L534.13,435.63 L532.6,434.97 L531.09,434.3 L529.59,433.63 L528.09,432.95 L526.61,432.26 L525.13,431.57 L523.67,430.87 L522.22,430.16 L520.78,429.44 L519.35,428.72 L517.93,427.99 L516.52,427.25 L515.12,426.5 L513.74,425.75 L512.36,424.99 L511,424.23 L509.65,423.45 L508.31,422.67 L506.98,421.89 L505.67,421.1 L504.36,420.3 L503.07,419.49 L501.79,418.68 L500.53,417.86 L499.27,417.03 L498.03,416.2 L496.8,415.36 L495.59,414.52 L494.38,413.67 L493.19,412.81 L492.01,411.95 L490.85,411.08 L489.7,410.21 L488.56,409.33 L487.43,408.44 L486.32,407.55 L485.22,406.66 L484.14,405.75 L483.07,404.85 L482.01,403.93 L480.97,403.02 L479.94,402.09 L478.93,401.16 L477.92,400.23 L476.94,399.29 L475.96,398.35 L475.01,397.4 L474.06,396.45 L473.13,395.49 L472.22,394.53 L471.32,393.56 L470.43,392.59 L469.56,391.61 L468.7,390.63 L467.86,389.65 L467.04,388.66 L466.22,387.67 L465.43,386.67 L464.65,385.67 L463.88,384.66 L463.13,383.65 L462.39,382.64 L461.67,381.63 L460.97,380.61 L460.28,379.58 L459.61,378.56 L458.95,377.53 L458.3,376.49 L457.68,375.46 L457.07,374.42 L456.47,373.37 L455.89,372.33 L455.33,371.28 L454.78,370.23 L454.24,369.18 L453.73,368.12 L453.23,367.06 L452.74,366 L452.28,364.93 L451.82,363.87 L451.39,362.8 L450.97,361.73 L450.56,360.66 L450.18,359.58 L449.81,358.5 L449.45,357.43 L449.11,356.34 L448.79,355.26 L448.48,354.18 L448.19,353.09 L447.92,352.01 L447.67,350.92 L447.42,349.83 L447.2,348.74 L446.99,347.65 L446.8,346.56 L446.63,345.46 L446.47,344.37 L446.33,343.28 L446.21,342.18 L446.1,341.08 L446.01,339.99 L445.93,338.89 L445.87,337.79 L445.83,336.7 L445.81,335.6 L445.8,334.5 L445.81,333.4 L445.83,332.3 L445.87,331.21 L445.93,330.11 L446.01,329.01 L446.1,327.92 L446.21,326.82 L446.33,325.72 L446.47,324.63 L446.63,323.54 L446.8,322.44 L446.99,321.35 L447.2,320.26 L447.42,319.17 L447.67,318.08 L447.92,316.99 L448.19,315.91 L448.48,314.82 L448.79,313.74 L449.11,312.66 L449.45,311.57 L449.81,310.5 L450.18,309.42 L450.56,308.34 L450.97,307.27 L451.39,306.2 L451.82,305.13 L452.28,304.07 L452.74,303 L453.23,301.94 L453.73,300.88 L454.24,299.82 L454.78,298.77 L455.33,297.72 L455.89,296.67 L456.47,295.63 L457.07,294.58 L457.68,293.54 L458.3,292.51 L458.95,291.47 L459.61,290.44 L460.28,289.42 L460.97,288.39 L461.67,287.37 L462.39,286.36 L463.13,285.35 L463.88,284.34 L464.65,283.33 L465.43,282.33 L466.22,281.33 L467.04,280.34 L467.86,279.35 L468.7,278.37 L469.56,277.39 L470.43,276.41 L471.32,275.44 L472.22,274.47 L473.13,273.51 L474.06,272.55 L475.01,271.6 L475.96,270.65 L476.94,269.71 L477.92,268.77 L478.93,267.84 L479.94,266.91 L480.97,265.98 L482.01,265.07 L483.07,264.15 L484.14,263.25 L485.22,262.34 L486.32,261.45 L487.43,260.56 L488.56,259.67 L489.7,258.79 L490.85,257.92 L492.01,257.05 L493.19,256.19 L494.38,255.33 L495.59,254.48 L496.8,253.64 L498.03,252.8 L499.27,251.97 L500.53,251.14 L501.79,250.32 L503.07,249.51 L504.36,248.7 L505.67,247.9 L506.98,247.11 L508.31,246.33 L509.65,245.55 L511,244.77 L512.36,244.01 L513.74,243.25 L515.12,242.5 L516.52,241.75 L517.93,241.01 L519.35,240.28 L520.78,239.56 L522.22,238.84 L523.67,238.13 L525.13,237.43 L526.61,236.74 L528.09,236.05 L529.59,235.37 L531.09,234.7 L532.6,234.03 L534.13,233.37 L535.66,232.73 L537.21,232.08 L538.76,231.45 L540.32,230.82 L541.9,230.21 L543.48,229.6 L545.07,229 L546.67,228.4 L548.28,227.82 L549.9,227.24 L551.52,226.67 L553.16,226.11 L554.8,225.55 L556.45,225.01 L558.11,224.47 L559.78,223.94 L561.46,223.43 L563.14,222.91 L564.83,222.41 L566.53,221.92 L568.24,221.43 L569.95,220.95 L571.67,220.49 L573.4,220.03 L575.13,219.58 L576.87,219.13 L578.62,218.7 L580.38,218.28 L582.14,217.86 L583.9,217.45 L585.68,217.06 L587.45,216.67 L589.24,216.29 L591.03,215.92 L592.83,215.55 L594.63,215.2 L596.43,214.86 L598.25,214.52 L600.06,214.2 L601.88,213.88 L603.71,213.57 L605.54,213.28 L607.38,212.99 L609.22,212.71 L611.06,212.44 L612.91,212.18 L613.43,212.11 Z"/></g></g>
<g clip-path="url(#apo-clip)" stroke="#0c80a8"><use href="#cov"/></g>
<path d="M349.41,158.98 A22.1,18.25 0 1 0 340.92,162.63 L354.6,167.5 Q348.5,164.6 349.41,158.98 Z" fill="#fff" stroke="#000" stroke-width="1.7" stroke-linejoin="round"/><rect x="325" y="134.1" width="7.1" height="20.6" fill="#e60012"/><rect x="338.8" y="134.1" width="7.1" height="20.6" fill="#e60012"/>
<path d="M357.91,305.38 A22.1,18.25 0 1 0 349.42,309.03 L363.1,313.9 Q357,311 357.91,305.38 Z" fill="#fff" stroke="#000" stroke-width="1.7" stroke-linejoin="round"/><rect x="333.5" y="280.5" width="7.1" height="20.6" fill="#e60012"/><rect x="347.3" y="280.5" width="7.1" height="20.6" fill="#e60012"/>
<path d="M460.29,305.38 A22.1,18.25 0 1 1 468.78,309.03 L455.1,313.9 Q461.2,311 460.29,305.38 Z" fill="#fff" stroke="#000" stroke-width="1.7" stroke-linejoin="round"/><path d="M467.3,281.7 l0,20 l20.6,-10 z" fill="#22ac38"/>
<path d="M612.11,310.28 A22.1,18.25 0 1 0 603.62,313.93 L617.3,318.8 Q611.2,315.9 612.11,310.28 Z" fill="#fff" stroke="#000" stroke-width="1.7" stroke-linejoin="round"/><rect x="587.7" y="285.4" width="7.1" height="20.6" fill="#e60012"/><rect x="601.5" y="285.4" width="7.1" height="20.6" fill="#e60012"/>
<path d="M714.59,310.28 A22.1,18.25 0 1 1 723.08,313.93 L709.4,318.8 Q715.5,315.9 714.59,310.28 Z" fill="#fff" stroke="#000" stroke-width="1.7" stroke-linejoin="round"/><path d="M721.6,286.6 l0,20 l20.6,-10 z" fill="#22ac38"/>
<path d="M496.2,114 L567.2,42.5 L806.5,42.5" fill="none" stroke="#505050" stroke-width="1.8"/>
<path d="M441.2,117.0 H507.3 a3,3 0 0 1 3,3 V155.2 a3,3 0 0 1 -3,3 H463.4 Q458.5,163.3 447.6,167.7 Q453.8,163 454.0,158.2 H441.2 a3,3 0 0 1 -3,-3 V120.0 a3,3 0 0 1 3,-3 Z" fill="#fff" stroke="#000" stroke-width="2" stroke-linejoin="round"/>
<rect x="449.2" y="128" width="7.2" height="20.2" fill="#e60012"/><rect x="462.6" y="128" width="7.2" height="20.2" fill="#e60012"/>
<path d="M473.2,135.8 l3.4,2.1 l-3.4,2.1 z M477,135.8 l3.4,2.1 l-3.4,2.1 z" fill="#aaa"/>
<path d="M484,128 L484,148.2 L504.6,138 Z" fill="#22ac38"/>
<g filter="url(#halo)" font-family="'DejaVu Sans Light', 'DejaVu Sans', 'Liberation Sans', sans-serif" font-weight="200" font-size="19" fill="#404040" stroke="#404040" stroke-width="0.5" style="font-variant-ligatures:none">
<text x="572.3" y="32.9" textLength="161.3" lengthAdjust="spacingAndGlyphs">Coverage Control</text>
<text x="572.3" y="65.4" textLength="230.6" lengthAdjust="spacingAndGlyphs">Detects a coverage hole</text>
<text x="572.3" y="91.4" textLength="232.9" lengthAdjust="spacingAndGlyphs">caused by AP failure and</text>
<text x="572.3" y="117" textLength="204.4" lengthAdjust="spacingAndGlyphs">activates Standby AP</text>
<text x="572.3" y="142.6" textLength="151.2" lengthAdjust="spacingAndGlyphs">to fulfill the hole</text>
</g>
</svg>
</body></html>
